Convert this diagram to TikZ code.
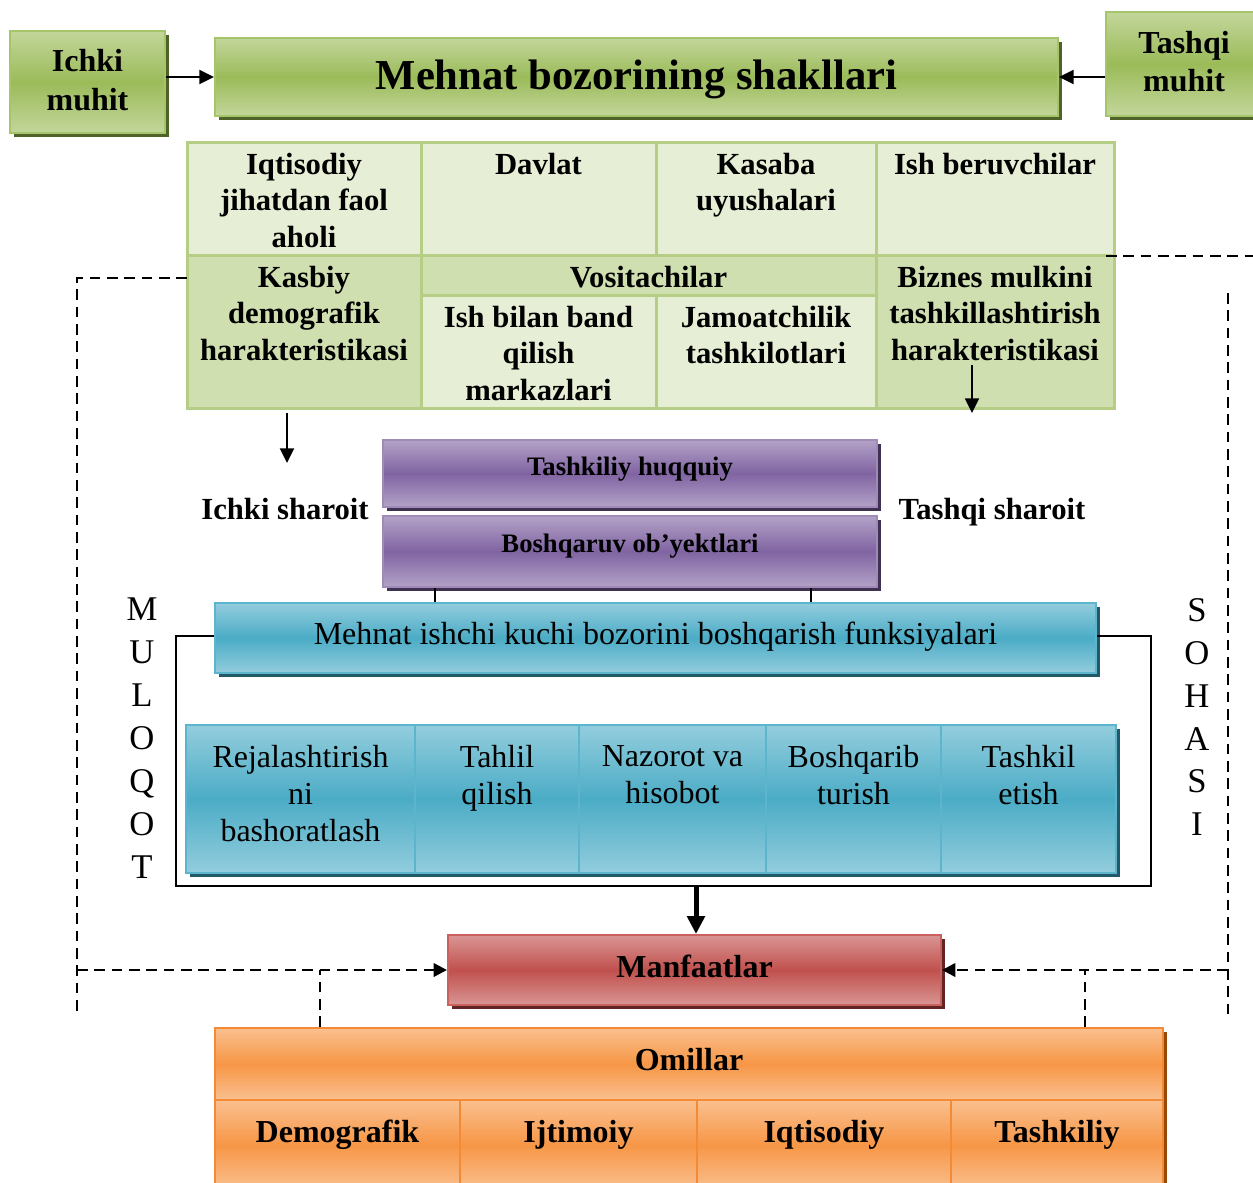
\documentclass[tikz,border=0pt]{standalone}
\usepackage{fontspec}
\setmainfont{Liberation Serif}
\usetikzlibrary{arrows.meta,shadows}
\definecolor{glight}{HTML}{C3D69B}
\definecolor{gmid}{HTML}{9BBB59}
\definecolor{gborder}{HTML}{A6C46A}
\definecolor{gshadow}{HTML}{4F6228}
\definecolor{tlight}{HTML}{E6EED5}
\definecolor{tdark}{HTML}{D0DFB0}
\definecolor{tborder}{HTML}{B5CD85}
\definecolor{plight}{HTML}{B3A2C7}
\definecolor{pmid}{HTML}{8064A2}
\definecolor{pborder}{HTML}{9F8AB8}
\definecolor{pshadow}{HTML}{3F3151}
\definecolor{blight}{HTML}{93CDDD}
\definecolor{bmid}{HTML}{4BACC6}
\definecolor{bborder}{HTML}{5DB5CD}
\definecolor{bshadow}{HTML}{215968}
\definecolor{rlight}{HTML}{D99694}
\definecolor{rmid}{HTML}{C0504D}
\definecolor{rborder}{HTML}{C9625F}
\definecolor{rshadow}{HTML}{632523}
\definecolor{olight}{HTML}{FAC08F}
\definecolor{omid}{HTML}{F79646}
\definecolor{oborder}{HTML}{F28A36}
\definecolor{oshadow}{HTML}{984807}
\newcommand{\mybox}[6]{%
  \node[#1, inner sep=0pt, minimum width={(#5-#3)*0.75pt}, minimum height={(#6-#4)*0.75pt}] (#2) at ({(#3+#5)/2},{(#4+#6)/2}) {};}
\tikzset{
  shd/.style={general shadow={fill=#1, shadow xshift=3pt, shadow yshift=-3pt}},
  gbox/.style={draw=gborder, line width=1.5pt, top color=glight, bottom color=glight, middle color=gmid, shd=gshadow},
  pbox/.style={draw=pborder, line width=1.5pt, top color=plight, bottom color=plight, middle color=pmid, shd=pshadow},
  bbox/.style={draw=bborder, line width=1.5pt, top color=blight, bottom color=blight, middle color=bmid, shd=bshadow},
  rbox/.style={draw=rborder, line width=1.5pt, top color=rlight, bottom color=rlight, middle color=rmid, shd=rshadow},
  obox/.style={draw=oborder, line width=1.5pt, top color=olight, bottom color=olight, middle color=omid, shd=oshadow},
  cellL/.style={draw=tborder, line width=2.25pt, fill=tlight},
  cellD/.style={draw=tborder, line width=2.25pt, fill=tdark},
  bcell/.style={draw=bborder, line width=1.5pt},
  ocell/.style={draw=oborder, line width=1.5pt},
  tb/.style={font=\fontsize{23}{27.5}\selectfont\bfseries, align=center, inner sep=0pt, anchor=north},
  tr/.style={font=\fontsize{24}{27.75}\selectfont, align=center, inner sep=0pt, anchor=north},
  mb/.style={font=\fontsize{24}{29}\selectfont\bfseries, align=center, inner sep=0pt},
  sb/.style={font=\fontsize{23}{27.5}\selectfont\bfseries, inner sep=0pt, text height=15.2pt, text depth=0pt},
  sb24/.style={font=\fontsize{24}{27.5}\selectfont\bfseries, inner sep=0pt, text height=15.9pt, text depth=0pt},
  sr24/.style={font=\fontsize{24}{27.5}\selectfont, inner sep=0pt, text height=15.9pt, text depth=0pt},
  sp/.style={font=\fontsize{20}{24}\selectfont\bfseries, inner sep=0pt, text height=13.2pt, text depth=0pt},
  vert/.style={font=\fontsize{26}{32.2}\selectfont, align=center, inner sep=0pt, anchor=north},
  arr/.style={line width=1.5pt, -{Triangle[length=11pt, width=10.5pt]}},
  sarr/.style={line width=1.4pt, -{Triangle[length=11pt, width=10.5pt]}},
  dsh/.style={line width=2pt, dash pattern=on 8pt off 5pt},
  darr/.style={dsh, -{Triangle[length=10pt, width=10pt, sep=0pt]}},
  thick arr/.style={line width=3.75pt, -{Triangle[length=13.5pt, width=13pt]}},
  ln/.style={line width=1.5pt}
}
\begin{document}
\begin{tikzpicture}[x=0.75pt, y=-0.75pt]
\useasboundingbox (0,0) rectangle (1253,1182);

% ---- top row
\mybox{gbox}{ichki}{10}{31}{165}{133}
\mybox{gbox}{title}{215}{38}{1058}{116}
\mybox{gbox}{tashqi}{1106}{12}{1262}{116}
\node[mb] (ichkiT) at (87.5,80) {Ichki\\muhit};
\node[mb] (tashqiT) at (1184,61.5) {Tashqi\\muhit};
\node[font=\fontsize{32}{38}\selectfont\bfseries, inner sep=0pt, text height=21.2pt, text depth=0pt] (titleT) at (636.5,75) {Mehnat bozorining shakllari};
\draw[arr] (ichki.east |- title.west) -- (title.west);
\draw[arr] (tashqi.west |- title.east) -- (title.east);

% ---- dashed frame coordinates
\coordinate (dlA) at (187,278);
\coordinate (dlB) at (77,278);
\coordinate (dlC) at (77,1015);
\coordinate (dlM) at (77,970);
\coordinate (drA) at (1106,256);
\coordinate (drB) at (1253,256);
\coordinate (drC) at (1228,293);
\coordinate (drD) at (1228,1015);
\coordinate (drM) at (1228,970);

% ---- table
\mybox{cellL}{c11}{187}{142}{421}{255}
\mybox{cellL}{c12}{421}{142}{656}{255}
\mybox{cellL}{c13}{656}{142}{876}{255}
\mybox{cellL}{c14}{876}{142}{1114}{255}
\mybox{cellD}{c21}{187}{255}{421}{408}
\mybox{cellD}{vos}{421}{255}{876}{295}
\mybox{cellL}{c22}{421}{295}{656}{408}
\mybox{cellL}{c23}{656}{295}{876}{408}
\mybox{cellD}{c24}{876}{255}{1114}{408}
\node[tb] (t11) at (304,152.5) {Iqtisodiy\\jihatdan faol\\aholi};
\node[tb] (t12) at (538.5,152.5) {Davlat};
\node[tb] (t13) at (766,152.5) {Kasaba\\uyushalari};
\node[tb] (t14) at (995,152.5) {Ish beruvchilar};
\node[tb] (t21) at (304,265.5) {Kasbiy\\demografik\\harakteristikasi};
\node[tb] (tvos) at (648.5,265.5) {Vositachilar};
\node[tb] (t22) at (538.5,305.5) {Ish bilan band\\qilish\\markazlari};
\node[tb] (t23) at (766,305.5) {Jamoatchilik\\tashkilotlari};
\node[tb] (t24) at (995,265.5) {Biznes mulkini\\tashkillashtirish\\harakteristikasi};

\draw[dsh] (dlA) -- (dlB) -- (dlC);
\draw[dsh] (drA) -- (drB);
\draw[dsh] (drC) -- (drD);

\coordinate (bzA) at (972,365);
\coordinate (bzB) at (972,413);
\draw[sarr] (bzA) -- (bzB);
\coordinate (ksA) at (287,413);
\coordinate (ksB) at (287,463);
\draw[sarr] (ksA) -- (ksB);

% ---- purple
\mybox{pbox}{p1}{383}{440}{877}{507}
\mybox{pbox}{p2}{383}{516}{877}{587}
\node[sp] (p1T) at (630,467) {Tashkiliy huqquiy};
\node[sp] (p2T) at (630,544) {Boshqaruv ob’yektlari};
\node[sb] (ichS) at (285,509) {Ichki sharoit};
\node[sb] (tasS) at (992,509) {Tashqi sharoit};

% ---- blue
\mybox{bbox}{bt}{215}{603}{1096}{673}
\node[sr24] (btT) at (655.5,634) {Mehnat ishchi kuchi bozorini boshqarish funksiyalari};
\draw[ln] (p2.south -| 435,0) -- (bt.north -| 435,0);
\draw[ln] (p2.south -| 811,0) -- (bt.north -| 811,0);

\mybox{bbox}{btab}{186}{725}{1116}{873}
\mybox{bcell}{b1}{186}{725}{415}{873}
\mybox{bcell}{b2}{415}{725}{579}{873}
\mybox{bcell}{b3}{579}{725}{766}{873}
\mybox{bcell}{b4}{766}{725}{941}{873}
\mybox{bcell}{b5}{941}{725}{1116}{873}
\node[tr] (b1T) at (300.5,745) {Rejalashtirish\\ni\\bashoratlash};
\node[tr] (b2T) at (497,745) {Tahlil\\qilish};
\node[tr] (b3T) at (672.5,745) {Nazorot va\\hisobot};
\node[tr] (b4T) at (853.5,745) {Boshqarib\\turish};
\node[tr] (b5T) at (1028.5,745) {Tashkil\\etish};

\coordinate (brL) at (176,636);
\coordinate (brLB) at (176,886);
\coordinate (brRB) at (1151,886);
\coordinate (brR) at (1151,636);
\draw[ln] (bt.west |- brL) -- (brL) -- (brLB) -- (brRB) -- (brR) -- (bt.east |- brR);

\node[vert] (mul) at (142,598) {M\\U\\L\\O\\Q\\O\\T};
\node[vert] (soh) at (1197,598) {S\\O\\H\\A\\S\\I};

% ---- manfaatlar
\mybox{rbox}{manf}{448}{935}{941}{1005}
\node[sb24] (manfT) at (694.5,967) {Manfaatlar};
\coordinate (thA) at (696,886);
\draw[thick arr] (thA) -- (thA |- manf.north);

\draw[darr] (dlM) -- (manf.west);
\draw[darr] (drM) -- (manf.east);

% ---- omillar
\mybox{obox}{om}{215}{1028}{1163}{1100}
\mybox{obox}{omr}{215}{1100}{1163}{1190}
\mybox{ocell}{o1}{215}{1100}{460}{1190}
\mybox{ocell}{o2}{460}{1100}{697}{1190}
\mybox{ocell}{o3}{697}{1100}{951}{1190}
\mybox{ocell}{o4}{951}{1100}{1163}{1190}
\node[sb24] (omT) at (689,1060) {Omillar};
\node[sb24] (o1T) at (337.5,1132) {Demografik};
\node[sb24] (o2T) at (578.5,1132) {Ijtimoiy};
\node[sb24] (o3T) at (824,1132) {Iqtisodiy};
\node[sb24] (o4T) at (1057,1132) {Tashkiliy};

\coordinate (omL) at (320,970);
\coordinate (omR) at (1085,970);
\draw[dsh] (om.north -| omL) -- (omL);
\draw[dsh] (om.north -| omR) -- (omR);
\end{tikzpicture}
\end{document}
